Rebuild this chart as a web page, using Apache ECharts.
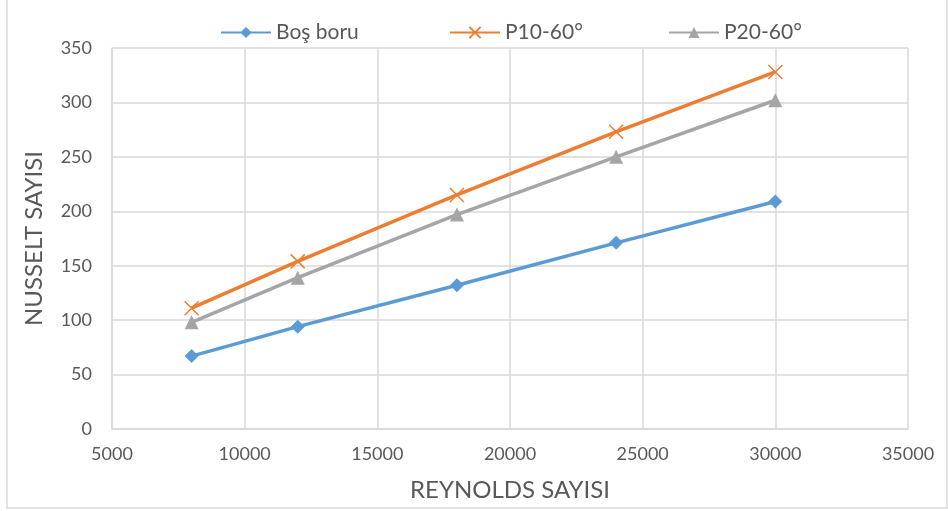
<!DOCTYPE html>
<html><head><meta charset="utf-8">
<script src="https://cdn.jsdelivr.net/npm/echarts@6/dist/echarts.min.js"></script>
<style>html,body{margin:0;padding:0;background:#fff}#c{width:948px;height:511px}</style>
</head><body><div id="c"></div>
<script>
const reynolds = [8000, 12000, 18000, 24000, 30000];
const bosBoru = [67, 94, 132, 171, 209];
const p10 = [111, 154, 215, 273, 328];
const p20 = [98, 139, 197, 250, 302];
const seriesNames = ['Boş boru', 'P10-60°', 'P20-60°'];
const colors = ['#5B9BD5', '#ED7D31', '#A5A5A5'];
const xPath = 'path://M0,0 L10,10 M10,0 L0,10';
const pairs = arr => reynolds.map((x, i) => [x, arr[i]]);
const font = 'Lato, "Open Sans", sans-serif';
const legendLefts = [215, 444, 663];
const chart = echarts.init(document.getElementById('c'));
chart.setOption({
  animation: false,
  textStyle: {fontFamily: font},
  graphic: [{type: 'rect', shape: {x: 7, y: -5, width: 940, height: 513}, style: {fill: 'none', stroke: '#D9D9D9', lineWidth: 1.5}}],
  legend: seriesNames.map((n, i) => ({
    top: 17, left: legendLefts[i], itemGap: 0, itemWidth: 50, itemHeight: 14,
    textStyle: {fontSize: 21, color: '#595959', fontFamily: font},
    data: [n]
  })),
  grid: {left: 112, right: 40, top: 48, bottom: 82},
  xAxis: {
    type: 'value', min: 5000, max: 35000, interval: 5000,
    name: 'REYNOLDS SAYISI', nameLocation: 'middle', nameGap: 49,
    nameTextStyle: {fontSize: 24, color: '#595959'},
    axisLine: {show: true, lineStyle: {color: '#D9D9D9', width: 1.5}},
    axisTick: {show: false},
    axisLabel: {fontSize: 18, color: '#595959', margin: 16, formatter: v => String(v)},
    splitLine: {show: true, lineStyle: {color: '#D9D9D9', width: 1.5}}
  },
  yAxis: {
    type: 'value', min: 0, max: 350, interval: 50,
    name: 'NUSSELT SAYISI', nameLocation: 'middle', nameGap: 66,
    nameTextStyle: {fontSize: 24, color: '#595959'},
    axisLine: {show: true, lineStyle: {color: '#D9D9D9', width: 1.5}},
    axisTick: {show: false},
    axisLabel: {fontSize: 18, color: '#595959', margin: 20},
    splitLine: {show: true, lineStyle: {color: '#D9D9D9', width: 1.5}}
  },
  series: [
    {name: seriesNames[0], type: 'line', data: pairs(bosBoru), symbol: 'diamond', symbolSize: 14,
     lineStyle: {width: 3.5, color: colors[0]}, itemStyle: {color: colors[0]}},
    {name: seriesNames[1], type: 'line', data: pairs(p10), symbol: xPath, symbolSize: 14,
     lineStyle: {width: 3.5, color: colors[1]}, itemStyle: {color: colors[1], borderColor: colors[1], borderWidth: 1.5}},
    {name: seriesNames[2], type: 'line', data: pairs(p20), symbol: 'triangle', symbolSize: 14,
     lineStyle: {width: 3.5, color: colors[2]}, itemStyle: {color: colors[2]}}
  ]
});
</script></body></html>
